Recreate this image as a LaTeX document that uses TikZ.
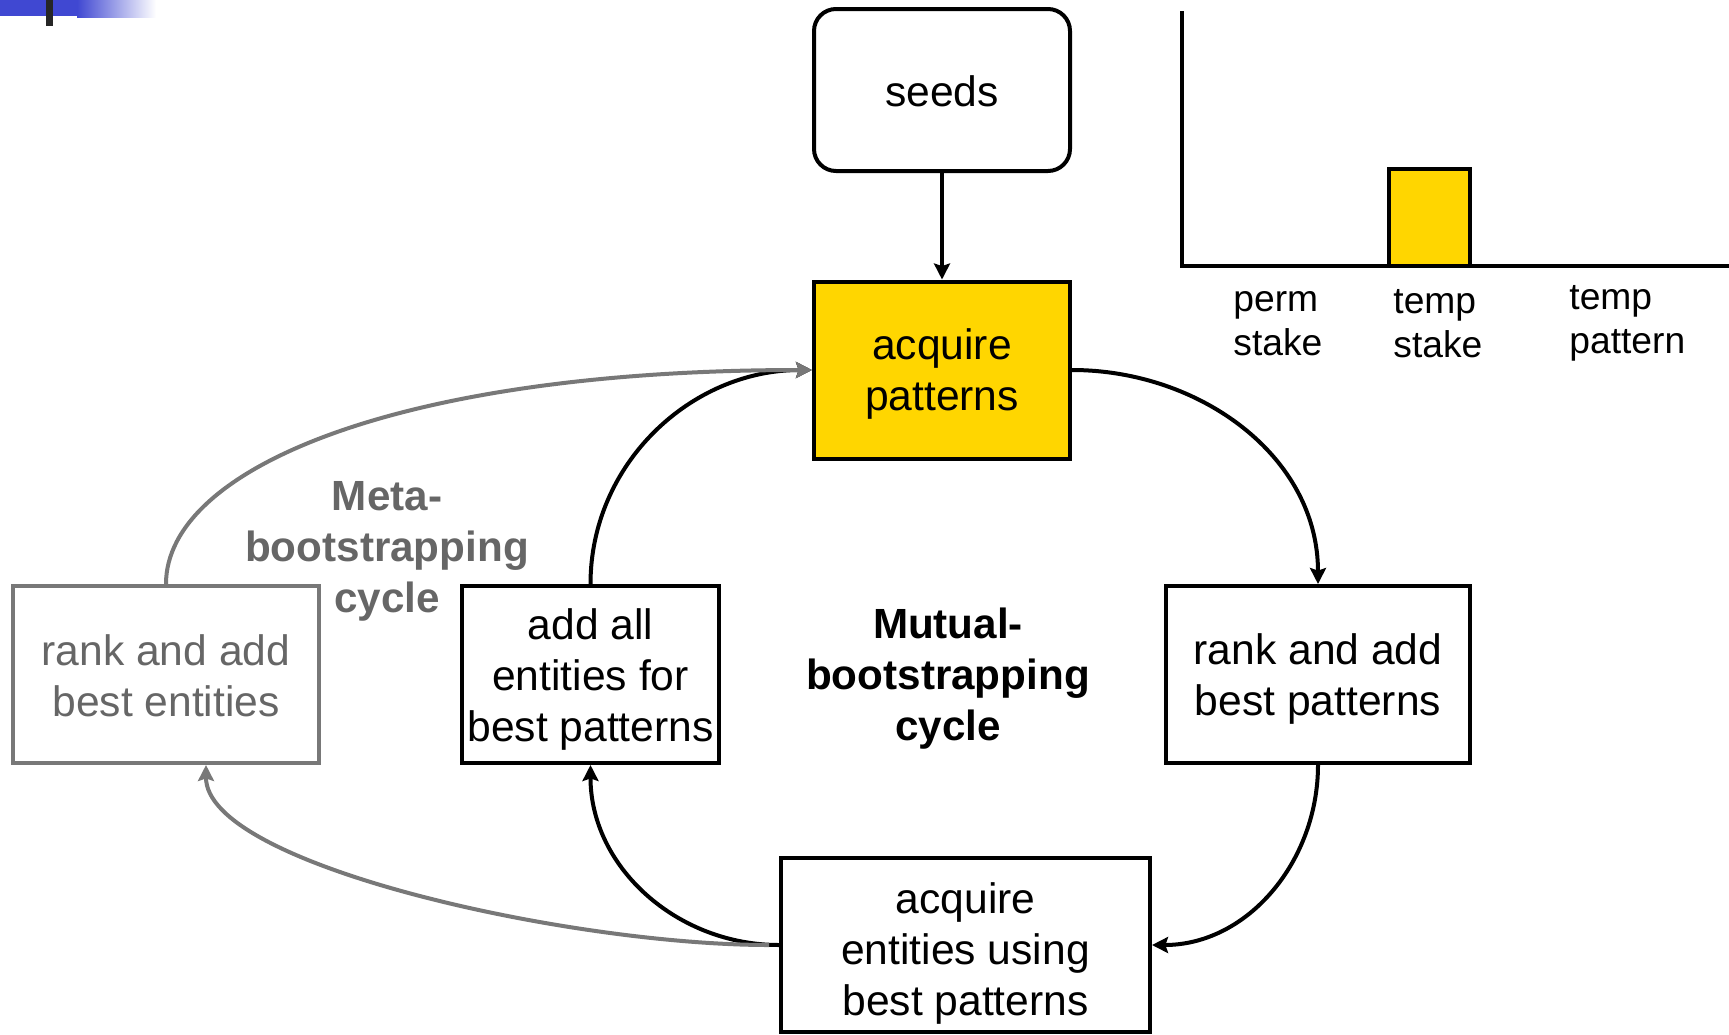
\documentclass[tikz,border=0pt]{standalone}
\usepackage{fontspec}
\setmainfont{Liberation Sans}
\usetikzlibrary{arrows.meta}
\definecolor{gold}{RGB}{255,214,0}
\definecolor{slideblue}{RGB}{64,72,210}
\definecolor{metagray}{RGB}{120,120,120}
\definecolor{metatext}{RGB}{102,102,102}
% invisible strut on the first line: a taller first line lowers the centred text block
\newcommand{\firstline}[1]{\rule{0pt}{#1}}
\tikzset{
  box/.style={draw=black, line width=2pt, rectangle, inner sep=0pt, align=center,
    font=\fontsize{21.3}{25.5}\selectfont, minimum height=88.5pt},
  roundbox/.style={box, rounded corners=11pt},
  graybox/.style={box, draw=metagray, text=metatext},
  flow/.style={line width=2pt, -{Stealth[length=8pt,width=8pt,inset=1.3pt]}},
  metaflow/.style={flow, draw=metagray, color=metagray},
  cyclelabel/.style={align=center, inner sep=0pt, font=\bfseries\fontsize{21.1}{25.5}\selectfont},
  chartlabel/.style={align=left, inner sep=0pt, anchor=west, font=\fontsize{18.6}{22}\selectfont},
}
\begin{document}
\begin{tikzpicture}[x=0.5pt, y=-0.5pt]
  \useasboundingbox (0,0) rectangle (1729,1034);

  % slide header ornament
  \fill[slideblue] (0,0) rectangle (78,16);
  \shade[left color=slideblue, right color=white] (77,0) rectangle (156,17);
  \fill[black!85] (46,0) rectangle (53,26);

  % process boxes
  \node[roundbox, minimum width=128pt, minimum height=81pt] (seeds) at (942,90) {\firstline{16.3pt}seeds};
  \node[box, fill=gold, minimum width=128pt] (acqpat) at (942,370) {\firstline{19.7pt}acquire\\patterns};
  \node[box, minimum width=128.5pt] (addall) at (590.5,674.5) {\firstline{20.9pt}add all\\entities for\\best patterns};
  \node[box, minimum width=152pt] (rankpat) at (1318,674.5) {\firstline{19.7pt}rank and add\\best patterns};
  \node[graybox, minimum width=153pt] (rankent) at (166,674.5) {\firstline{16.3pt}rank and add\\best entities};
  \node[box, minimum width=184.5pt, minimum height=87pt] (acqent) at (965.5,945) {\firstline{23.5pt}acquire\\entities using\\best patterns};

  % cycle labels
  \node[cyclelabel] (mutual) at (948,679) {Mutual-\\bootstrapping\\cycle};
  \node[cyclelabel, text=metatext] (meta) at (387,551) {Meta-\\bootstrapping\\cycle};

  % mutual-bootstrapping cycle
  \draw[flow] (seeds.south) -- (acqpat.north);
  \draw[flow] (acqpat.east) to[out=0, in=90] (rankpat.north);
  \draw[flow] (rankpat.south) to[out=-90, in=0] (acqent.east);
  \draw[flow] (acqent.west) to[out=180, in=-90] (addall.south);
  \draw[flow] (addall.north) to[out=90, in=180] (acqpat.west);

  % meta-bootstrapping cycle
  \coordinate (entin) at ([xshift=20pt]rankent.south);
  \coordinate (entout) at ([xshift=-5pt]acqent.west);
  \draw[metaflow] (entout) .. controls +(-200,0) and +(0,100) .. (entin);
  \draw[metaflow] (rankent.north) .. controls +(0,-116) and +(-412,0) .. (acqpat.west);

  % stake chart
  \draw[line width=1.9pt] (1182,11) -- (1182,266) -- (1729,266);
  \draw[line width=1.9pt, fill=gold] (1389,169) rectangle (1470,266);
  \node[chartlabel] (perm) at (1233,323.5) {perm\\stake};
  \node[chartlabel] (tstake) at (1393,323.5) {temp\\stake};
  \node[chartlabel] (tpat) at (1569,323.5) {temp\\pattern};
\end{tikzpicture}
\end{document}
